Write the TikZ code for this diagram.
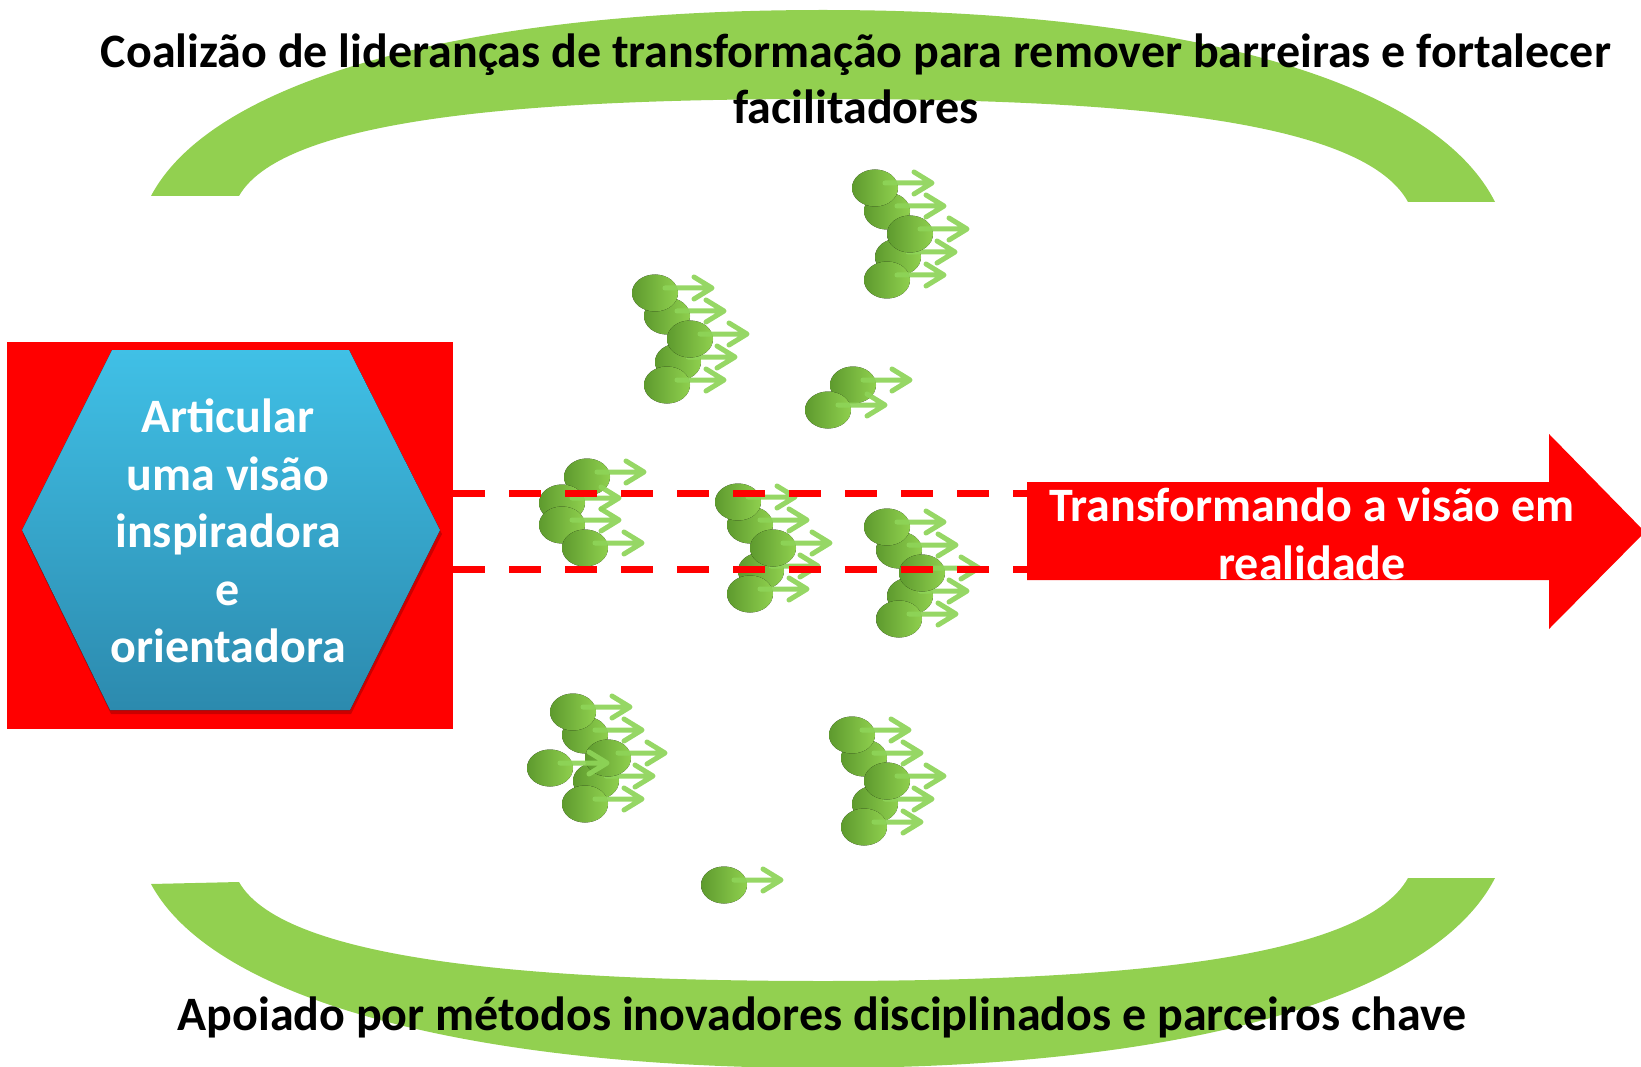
\documentclass[tikz,border=0pt]{standalone}
\usepackage{fontspec}
\setmainfont{Carlito}
\usetikzlibrary{calc}
\definecolor{lgreen}{RGB}{146,208,80}
\definecolor{agreen}{RGB}{142,212,88}
\definecolor{dgreen}{RGB}{94,154,46}
\definecolor{bgreen}{RGB}{143,208,78}
\definecolor{hexTop}{RGB}{64,192,230}
\definecolor{hexBot}{RGB}{44,138,174}
\newcommand\oneblob[2]{%
  \fill[left color=dgreen, right color=bgreen] (#1,#2) ellipse [x radius=23, y radius=18.5];
  \draw[garrow] (#1+10,#2-5) -- (#1+55,#2-5) (#1+39,#2-16) -- (#1+57,#2-5) -- (#1+39,#2+6);
}
\newcommand\fiveblob[2]{%
  \oneblob{#1+12}{#2+23}
  \oneblob{#1+23}{#2+69}
  \oneblob{#1}{#2}
  \oneblob{#1+35}{#2+46}
  \oneblob{#1+12}{#2+92}
}
\begin{document}
\begin{tikzpicture}[x=1pt,y=-1pt,
  garrow/.style={draw=agreen, line width=5pt, line cap=round, line join=round, opacity=0.92},
  reddash/.style={draw=red, line width=7pt, dash pattern=on 32pt off 24pt},
  bigtext/.style={font=\fontsize{48}{56}\selectfont\bfseries, align=center, text=black},
  whitetext/.style={font=\fontsize{48}{57.5}\selectfont\bfseries, align=center, text=white}]
\useasboundingbox (0,0) rectangle (1641,1067);
\fill[white] (0,0) rectangle (1641,1067);
% top arc
\fill[lgreen] (151,196) .. controls (215,75) and (480,10) .. (823,10)
  .. controls (1166,10) and (1431,75) .. (1495,202) -- (1408,202)
  .. controls (1361,115) and (1096,99) .. (823,99)
  .. controls (550,99) and (285,115) .. (239,196) -- cycle;
% bottom arc
\fill[lgreen] (151,884) .. controls (215,1003) and (480,1068) .. (823,1068)
  .. controls (1166,1068) and (1431,1003) .. (1495,878) -- (1408,878)
  .. controls (1361,963) and (1096,981) .. (823,981)
  .. controls (550,981) and (285,963) .. (239,882) -- cycle;
% red box
\node[fill=red, minimum width=446, minimum height=387, anchor=north west, inner sep=0] (box) at (7,342) {};
% hexagon
\fill[black, opacity=0.2] (113,354) -- (350,354) -- (442,534) -- (351,714) -- (111,714) -- (23,534) -- cycle;
\fill[top color=hexTop, bottom color=hexBot] (112,350) -- (349,350) -- (440,530) -- (350,710) -- (110,710) -- (22,530) -- cycle;
\node[whitetext] (hextext) at (228,531) {Articular\\uma visão\\inspiradora\\e\\orientadora};
% green people
\fiveblob{655}{293}
\fiveblob{875}{188}
\fiveblob{573}{712}
\oneblob{550}{768}
\oneblob{853}{385}
\oneblob{828}{410}
\oneblob{587}{477}
\oneblob{562}{503}
\oneblob{562}{525}
\oneblob{585}{548}
\fiveblob{738}{502}
\fiveblob{887}{527}
\fiveblob{852}{735}
\oneblob{724}{885}
% big arrow
\fill[red] (1027,482) -- (1549,482) -- (1549,434) -- (1645,532) -- (1549,629) -- (1549,580) -- (1027,580) -- cycle;
\coordinate (arr) at (1027,531);
\node[whitetext] (arrtext) at (1312,534) {Transformando a visão em\\realidade};
% dashed lines
\coordinate (d1s) at (453,493);
\coordinate (d1e) at (1027,493);
\coordinate (d2s) at (453,569);
\coordinate (d2e) at (1027,569);
\draw[reddash] (d1s) -- (d1e);
\draw[reddash] (d2s) -- (d2e);
% texts
\node[bigtext] (top) at (856,79) {Coalizão de lideranças de transformação para remover barreiras e fortalecer\\facilitadores};
\node[bigtext] (bottom) at (822,1017) {Apoiado por métodos inovadores disciplinados e parceiros chave};
\end{tikzpicture}
\end{document}
